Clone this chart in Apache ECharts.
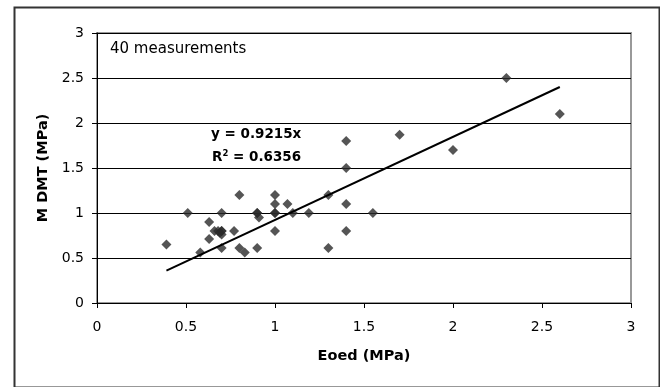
<!DOCTYPE html>
<html>
<head>
<meta charset="utf-8">
<script src="https://cdn.jsdelivr.net/npm/echarts@6/dist/echarts.min.js"></script>
<style>
html,body{margin:0;padding:0;background:#fff;}
#chart{width:660px;height:387px;}
</style>
</head>
<body>
<div id="chart"></div>
<script>
// Measurements: Eoed (MPa) vs M DMT (MPa)
const eoed = [0.39,0.51,0.58,0.63,0.63,0.66,0.68,0.70,0.70,0.70,0.70,0.77,0.80,0.80,0.83,0.90,0.91,0.90,1.00,1.00,1.00,1.00,1.07,1.10,1.19,1.30,1.30,1.40,1.40,1.40,1.40,1.55,1.70,2.00,2.30,2.60,0.69,1.00,0.90,0.70];
const mdmt = [0.65,1.00,0.56,0.90,0.71,0.80,0.80,0.80,0.76,1.00,0.61,0.80,1.20,0.61,0.56,1.00,0.95,0.61,1.20,1.10,1.00,0.80,1.10,1.00,1.00,1.20,0.61,1.80,1.50,1.10,0.80,1.00,1.87,1.70,2.50,2.10,0.78,1.00,1.00,0.80];
// Trend line end points
const trendX = [0.39, 2.60];
const trendY = [0.36, 2.40];
const xTicks = [0, 0.5, 1, 1.5, 2, 2.5, 3];
const yTicks = [0, 0.5, 1, 1.5, 2, 2.5, 3];
const xName = 'Eoed (MPa)';
const yName = 'M DMT (MPa)';
const noteText = '40 measurements';
const eqText = 'y = 0.9215x';
const r2Value = '0.6356';

const points = eoed.map((x, i) => [x, mdmt[i]]);
const trend = trendX.map((x, i) => [x, trendY[i]]);

const font = '"DejaVu Sans", sans-serif';
const chart = echarts.init(document.getElementById('chart'));
chart.setOption({
  animation: false,
  backgroundColor: '#fff',
  grid: {left: 97, right: 29, top: 33, bottom: 84, show: true, borderColor: '#999', borderWidth: 2},
  xAxis: {
    type: 'value', min: xTicks[0], max: xTicks[xTicks.length-1], interval: 0.5,
    name: xName, nameLocation: 'middle', nameGap: 46,
    nameTextStyle: {fontFamily: font, fontSize: 14.5, fontWeight: 'bold', color: '#000'},
    axisLine: {show: true, lineStyle: {color: '#000', width: 1}},
    axisTick: {show: true, inside: false, length: 5, lineStyle: {color: '#000'}},
    axisLabel: {fontFamily: font, fontSize: 14, color: '#000', margin: 17},
    splitLine: {show: false}
  },
  yAxis: {
    type: 'value', min: yTicks[0], max: yTicks[yTicks.length-1], interval: 0.5,
    name: yName, nameLocation: 'middle', nameGap: 46, nameRotate: 90,
    nameTextStyle: {fontFamily: font, fontSize: 14.5, fontWeight: 'bold', color: '#000'},
    axisLine: {show: true, lineStyle: {color: '#000', width: 1}},
    axisTick: {show: true, inside: false, length: 5, lineStyle: {color: '#000'}},
    axisLabel: {fontFamily: font, fontSize: 14, color: '#000', margin: 13},
    splitLine: {show: true, lineStyle: {color: '#000', width: 1}}
  },
  series: [
    {
      type: 'scatter', data: points, symbol: 'diamond', symbolSize: 10,
      itemStyle: {color: '#2b2b2b'}, z: 3
    },
    {
      type: 'line', data: trend, symbol: 'none',
      lineStyle: {color: '#000', width: 2}, z: 4
    }
  ],
  graphic: [
    {type: 'rect', left: 12, top: 5, shape: {width: 645, height: 380}, style: {fill: 'none', stroke: '#333', lineWidth: 2}, silent: true},
    {type: 'text', left: 110, top: 42, style: {text: noteText, fontFamily: font, fontSize: 15, fill: '#000'}},
    {type: 'text', left: 211, top: 127, style: {text: eqText, fontFamily: font, fontSize: 13.5, fontWeight: 'bold', fill: '#000'}},
    {type: 'text', left: 212, top: 149, style: {
      text: '{b|R}{s|2}{b| = ' + r2Value + '}',
      rich: {
        b: {fontFamily: font, fontSize: 13.5, fontWeight: 'bold', color: '#000', lineHeight: 18},
        s: {fontFamily: font, fontSize: 8.5, fontWeight: 'bold', color: '#000', lineHeight: 18, padding: [0,0,8,0]}
      }
    }}
  ]
});
</script>
</body>
</html>
